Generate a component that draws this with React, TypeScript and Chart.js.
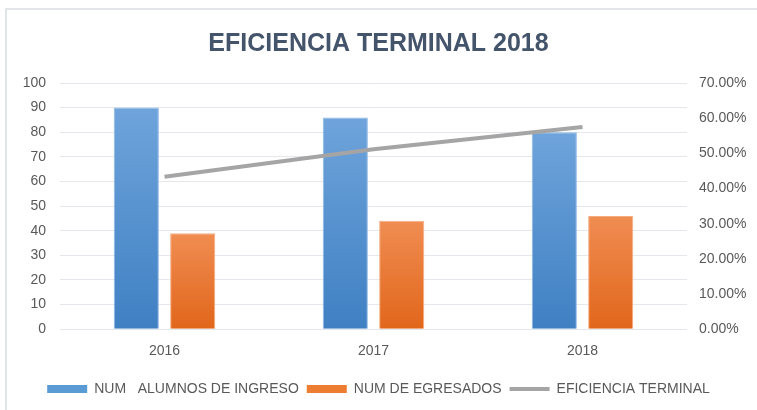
import React, { useEffect, useRef } from "react";
import { Chart, registerables } from "chart.js";

Chart.register(...registerables);

const categories = ["2016", "2017", "2018"];
const ingreso = [90, 86, 80];
const egresados = [39, 44, 46];
const eficiencia = [43.33, 51.16, 57.5];
const leftTicks = [0, 10, 20, 30, 40, 50, 60, 70, 80, 90, 100];
const rightTicks = [0, 10, 20, 30, 40, 50, 60, 70];
const seriesNames = ["NUM   ALUMNOS DE INGRESO", "NUM DE EGRESADOS", "EFICIENCIA TERMINAL"];
const chartTitle = "EFICIENCIA TERMINAL 2018";

const FONT = "'Liberation Sans', Arial, sans-serif";

function barGradient(top: string, bottom: string) {
  return (ctx: any) => {
    const chart = ctx.chart;
    const area = chart.chartArea;
    if (!area || ctx.type !== "data") return top;
    const yScale = chart.scales.y;
    const v = ctx.parsed ? ctx.parsed.y : ctx.raw;
    const yTop = yScale.getPixelForValue(v);
    const yBot = yScale.getPixelForValue(0);
    if (!isFinite(yTop) || !isFinite(yBot) || yTop === yBot) return top;
    const g = chart.ctx.createLinearGradient(0, yTop, 0, yBot);
    g.addColorStop(0, top);
    g.addColorStop(1, bottom);
    return g;
  };
}

const framePlugin = {
  id: "frame",
  beforeDraw(chart: any) {
    const c = chart.ctx;
    c.save();
    c.fillStyle = "#ffffff";
    c.fillRect(0, 0, chart.width, chart.height);
    c.strokeStyle = "#D9DDE3";
    c.lineWidth = 1.5;
    c.strokeRect(6, 9, chart.width + 10, chart.height + 10);
    c.restore();
  },
};

export default function App() {
  const ref = useRef<HTMLCanvasElement | null>(null);
  useEffect(() => {
    document.body.style.margin = "0";
    if (!ref.current) return;
    const chart = new Chart(ref.current, {
      type: "bar",
      data: {
        labels: categories,
        datasets: [
          {
            type: "bar",
            label: seriesNames[0],
            data: ingreso,
            backgroundColor: barGradient("#6FA4DB", "#3F80C3"),
            borderColor: "#8EB8E5",
            borderWidth: 1,
            yAxisID: "y",
            barPercentage: 0.8,
            categoryPercentage: 0.54,
            order: 1,
          },
          {
            type: "bar",
            label: seriesNames[1],
            data: egresados,
            backgroundColor: barGradient("#F08D52", "#E1661B"),
            borderColor: "#F5AD80",
            borderWidth: 1,
            yAxisID: "y",
            barPercentage: 0.8,
            categoryPercentage: 0.54,
            order: 1,
          },
          {
            type: "line",
            label: seriesNames[2],
            data: eficiencia,
            borderColor: "#A5A5A5",
            backgroundColor: "#A5A5A5",
            borderWidth: 4,
            pointRadius: 0,
            yAxisID: "y1",
            order: 0,
          } as any,
        ],
      },
      options: {
        animation: false,
        responsive: false,
        maintainAspectRatio: false,
        layout: { padding: { left: 0, right: 0, top: 0, bottom: 4 } },
        plugins: {
          title: {
            display: true,
            text: chartTitle,
            color: "#44546A",
            font: { family: FONT, size: 25, weight: "bold" },
            padding: { top: 29, bottom: 24 },
          },
          legend: {
            display: true,
            position: "bottom",
            labels: {
              color: "#595959",
              font: { family: FONT, size: 14 },
              usePointStyle: true,
              pointStyleWidth: 40,
              boxHeight: 8,
              padding: 8,
              sort: (a: any, b: any) => a.datasetIndex - b.datasetIndex,
              generateLabels: (ch: any) => {
                const items = (Chart.defaults.plugins.legend.labels as any).generateLabels(ch);
                return items.map((it: any) => {
                  if (it.datasetIndex === 0) {
                    return { ...it, fillStyle: "#5B9BD5", strokeStyle: "#5B9BD5", lineWidth: 0, pointStyle: "rect" };
                  }
                  if (it.datasetIndex === 1) {
                    return { ...it, fillStyle: "#ED7D31", strokeStyle: "#ED7D31", lineWidth: 0, pointStyle: "rect" };
                  }
                  return { ...it, fillStyle: "#A5A5A5", strokeStyle: "#A5A5A5", lineWidth: 4, pointStyle: "line" };
                });
              },
            },
          },
          tooltip: { enabled: false },
        },
        scales: {
          x: {
            grid: { display: false, drawTicks: false },
            border: { display: false },
            ticks: { color: "#595959", font: { family: FONT, size: 14 }, padding: 14 },
          },
          y: {
            position: "left",
            min: 0,
            max: 100,
            afterBuildTicks: (s: any) => {
              s.ticks = leftTicks.map((v) => ({ value: v }));
            },
            afterFit: (s: any) => {
              s.width = 60;
            },
            grid: { color: "#E4E8ED", lineWidth: 1, drawTicks: false },
            border: { display: false },
            ticks: { color: "#595959", font: { family: FONT, size: 14 }, padding: 14 },
          },
          y1: {
            position: "right",
            min: 0,
            max: 70,
            afterBuildTicks: (s: any) => {
              s.ticks = rightTicks.map((v) => ({ value: v }));
            },
            afterFit: (s: any) => {
              s.width = 70;
            },
            grid: { display: false, drawTicks: false },
            border: { display: false },
            ticks: {
              color: "#595959",
              font: { family: FONT, size: 14 },
              padding: 12,
              callback: (v: any) => Number(v).toFixed(2) + "%",
            },
          },
        },
      } as any,
      plugins: [framePlugin],
    });
    return () => chart.destroy();
  }, []);
  return (
    <div style={{ width: 757, height: 410 }}>
      <canvas ref={ref} width={757} height={410} style={{ display: "block" }} />
    </div>
  );
}
